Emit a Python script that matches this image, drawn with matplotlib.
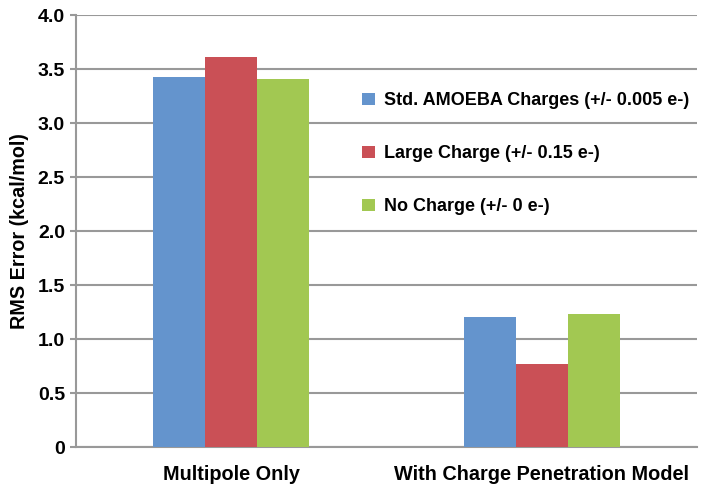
import matplotlib
matplotlib.use("Agg")
import matplotlib.pyplot as plt
import numpy as np

plt.rcParams['font.family'] = ['Liberation Sans', 'DejaVu Sans']

categories = ["Multipole Only", "With Charge Penetration Model"]
series_names = ["Std. AMOEBA Charges (+/- 0.005 e-)",
                "Large Charge (+/- 0.15 e-)",
                "No Charge (+/- 0 e-)"]
std_amoeba = [3.43, 1.20]
large_charge = [3.61, 0.77]
no_charge = [3.41, 1.23]
yticks = [0, 0.5, 1.0, 1.5, 2.0, 2.5, 3.0, 3.5, 4.0]
ytick_labels = ["0", "0.5", "1.0", "1.5", "2.0", "2.5", "3.0", "3.5", "4.0"]

colors = ["#6494CD", "#CA5056", "#A2C852"]

fig = plt.figure(figsize=(7.04, 4.91), dpi=100)
ax = fig.add_axes([76/704, 44/491, 621/704, 432/491])

x = np.arange(len(categories))
w = 0.1675
for i, (vals, name, c) in enumerate(zip([std_amoeba, large_charge, no_charge], series_names, colors)):
    ax.bar(x + (i - 1) * w, vals, width=w, color=c, label=name, zorder=3)

ax.set_xlim(-0.5, 1.5)
ax.set_ylim(0, 4.0)
ax.set_yticks(yticks)
ax.set_yticklabels(ytick_labels, fontsize=14, fontweight='bold')
ax.set_xticks(x)
ax.set_xticklabels(categories, fontsize=14.3, fontweight='bold')
ax.tick_params(axis='x', length=0, pad=13)
ax.tick_params(axis='y', length=4, color='#999999', width=1.5, pad=4)
ax.grid(axis='y', color='#999999', linewidth=1.5, zorder=0)
for s in ['top', 'right']:
    ax.spines[s].set_visible(False)
for s in ['left', 'bottom']:
    ax.spines[s].set_color('#999999')
    ax.spines[s].set_linewidth(1.5)
ax.set_ylabel("RMS Error (kcal/mol)", fontsize=14.2, fontweight='bold', labelpad=6)

leg = ax.legend(loc='upper left', bbox_to_anchor=(346/704, 1 - 76/491),
                bbox_transform=fig.transFigure, frameon=False,
                handlelength=0.7, handleheight=0.7, handletextpad=0.5,
                labelspacing=2.0, prop={'weight': 'bold', 'size': 13})

fig.savefig("out.png", dpi=100, facecolor='white')
